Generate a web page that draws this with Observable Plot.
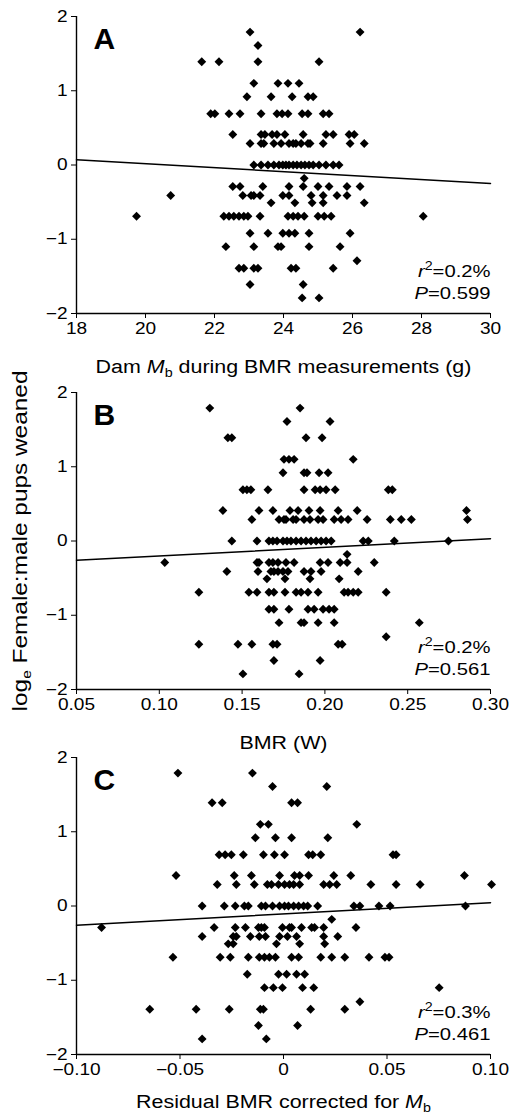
<!DOCTYPE html>
<html><head><meta charset="utf-8">
<script src="https://cdn.jsdelivr.net/npm/d3@7"></script>
<script src="https://cdn.jsdelivr.net/npm/@observablehq/plot@0.6"></script>
<style>
body{margin:0;background:#fff;}
#chart{position:relative;width:515px;height:1118px;font-family:"Liberation Sans",Arial,Helvetica,sans-serif;}
#chart svg{position:absolute;left:0;overflow:visible;}
</style></head><body><div id="chart"></div>
<script>
// y levels: log_e(female:male pups weaned)
const yLevels = [1.79, 1.61, 1.39, 1.10, 0.92, 0.69, 0.41, 0.29, 0, -0.18, -0.29, -0.41, -0.51, -0.69, -0.92, -1.10, -1.29, -1.39, -1.61, -1.79];
const yTicks = [-2, -1, 0, 1, 2];

// Panel A: dam body mass (g), one list per y level
const damMass = [
 [23.03, 26.22],
 [23.26],
 [21.63, 22.13, 23.26, 25.03],
 [23.14, 23.84, 24.13, 24.45],
 [22.94, 23.64, 24.25, 24.71, 24.86],
 [21.89, 22.01, 22.42, 22.74, 23.35, 23.81, 23.96, 24.13, 24.54, 24.71, 25.15, 25.32],
 [22.53, 23.35, 23.46, 23.67, 23.81, 24.04, 24.57, 25.23, 25.44, 25.90, 26.05],
 [23.03, 23.35, 23.43, 23.72, 23.93, 24.16, 24.28, 24.36, 24.51, 24.71, 24.77, 25.15, 25.93, 26.34],
 [23.14, 23.35, 23.55, 23.72, 23.87, 23.98, 24.07, 24.16, 24.28, 24.39, 24.51, 24.62, 24.74, 24.86, 25.03, 25.23, 25.44, 25.61],
 [24.60],
 [22.53, 22.74, 23.40, 24.16, 24.57, 25.00, 25.32, 25.84, 26.22],
 [20.73, 22.82, 23.06, 23.14, 23.32, 23.98, 24.16, 24.80, 25.15, 25.55, 25.84],
 [23.64, 24.33, 24.83, 25.15, 26.34],
 [19.74, 22.27, 22.42, 22.56, 22.71, 22.85, 22.97, 23.32, 24.13, 24.28, 24.42, 24.60, 25.00, 25.18, 25.38, 28.05],
 [23.03, 23.55, 23.98, 24.16, 24.33, 24.74, 25.93],
 [22.33, 23.14, 23.84, 23.93, 24.74, 25.64],
 [26.13],
 [22.71, 22.85, 23.14, 23.26, 24.22, 24.36, 25.44],
 [23.03, 24.57],
 [24.54, 25.03]
];
// Panel B: BMR (W)
const bmr = [
 [0.1305, 0.1850],
 [0.1771, 0.2031],
 [0.1414, 0.1438, 0.1886, 0.1983],
 [0.1753, 0.1783, 0.1814, 0.2171],
 [0.1747, 0.1874, 0.1892, 0.1965, 0.2019],
 [0.1505, 0.1529, 0.1553, 0.1656, 0.1874, 0.1941, 0.1971, 0.2007, 0.2062, 0.2383, 0.2407],
 [0.1384, 0.1602, 0.1686, 0.1789, 0.1838, 0.1904, 0.1971, 0.2080, 0.2195, 0.2855],
 [0.1559, 0.1723, 0.1753, 0.1765, 0.1808, 0.1826, 0.1874, 0.1910, 0.1959, 0.1989, 0.2056, 0.2098, 0.2140, 0.2255, 0.2395, 0.2461, 0.2522, 0.2861],
 [0.1438, 0.1590, 0.1662, 0.1686, 0.1711, 0.1747, 0.1771, 0.1795, 0.1826, 0.1856, 0.1886, 0.1916, 0.1947, 0.1977, 0.2007, 0.2038, 0.2231, 0.2262, 0.2419, 0.2746],
 [0.2134],
 [0.1033, 0.1590, 0.1602, 0.1662, 0.1686, 0.1717, 0.1765, 0.1814, 0.1971, 0.2019, 0.2092, 0.2134, 0.2298],
 [0.1408, 0.1596, 0.1674, 0.1692, 0.1717, 0.1747, 0.1777, 0.1874, 0.1916, 0.1977, 0.2201],
 [0.1650, 0.1759, 0.1910, 0.2086],
 [0.1239, 0.1541, 0.1590, 0.1662, 0.1692, 0.1759, 0.1826, 0.1856, 0.1898, 0.1959, 0.2116, 0.2140, 0.2171, 0.2201, 0.2370],
 [0.1662, 0.1692, 0.1783, 0.1898, 0.1935, 0.1989, 0.2025, 0.2056],
 [0.1723, 0.1856, 0.1874, 0.1959, 0.2056, 0.2570],
 [0.2370],
 [0.1239, 0.1475, 0.1559, 0.1686, 0.1711, 0.2080, 0.2104],
 [0.1692, 0.1971],
 [0.1505, 0.1844]
];
// Panel C: residual BMR corrected for Mb
const residual = [
 [-0.0510, -0.0150],
 [-0.0053, 0.0209],
 [-0.0345, -0.0296, 0.0039, 0.0068],
 [-0.0112, -0.0073, 0.0354],
 [-0.0136, -0.0039, 0.0039, 0.0214],
 [-0.0311, -0.0282, -0.0252, -0.0194, -0.0097, -0.0044, 0.0005, 0.0121, 0.0141, 0.0180, 0.0529, 0.0544],
 [-0.0519, -0.0238, -0.0155, -0.0019, 0.0053, 0.0078, 0.0121, 0.0243, 0.0325, 0.0874],
 [-0.0320, -0.0228, -0.0141, -0.0078, -0.0058, -0.0024, 0.0005, 0.0029, 0.0049, 0.0078, 0.0194, 0.0223, 0.0257, 0.0422, 0.0544, 0.0660, 0.1005],
 [-0.0393, -0.0286, -0.0233, -0.0189, -0.0170, -0.0107, -0.0087, -0.0053, -0.0019, 0.0005, 0.0024, 0.0049, 0.0073, 0.0097, 0.0117, 0.0165, 0.0340, 0.0369, 0.0461, 0.0515, 0.0879],
 [0.0233],
 [-0.0879, -0.0335, -0.0233, -0.0184, -0.0121, -0.0107, -0.0092, -0.0005, 0.0029, 0.0039, 0.0087, 0.0136, 0.0150, 0.0194, 0.0350],
 [-0.0393, -0.0243, -0.0228, -0.0160, -0.0117, -0.0087, -0.0019, 0.0019, 0.0063, 0.0194, 0.0262],
 [-0.0267, -0.0243, -0.0034, 0.0078, 0.0199],
 [-0.0534, -0.0306, -0.0257, -0.0170, -0.0117, -0.0092, -0.0068, -0.0039, 0.0039, 0.0073, 0.0180, 0.0233, 0.0296, 0.0413, 0.0490, 0.0510],
 [-0.0175, -0.0024, 0.0015, 0.0063, 0.0102],
 [-0.0092, -0.0049, -0.0005, 0.0092, 0.0146, 0.0752],
 [0.0369],
 [-0.0646, -0.0422, -0.0262, -0.0112, -0.0097, 0.0131, 0.0296],
 [-0.0121, 0.0068],
 [-0.0393, -0.0083]
];

// regression lines (end points)
const fitAx = [18, 30], fitAy = [0.07, -0.25];
const fitBx = [0.05, 0.30], fitBy = [-0.26, 0.03];
const fitCx = [-0.10, 0.10], fitCy = [-0.26, 0.045];

// tick values
const ticksA = [18, 20, 22, 24, 26, 28, 30];
const ticksB = [0.05, 0.10, 0.15, 0.20, 0.25, 0.30];
const ticksC = [-0.10, -0.05, 0, 0.05, 0.10];

// stats and texts
const letters = ["A", "B", "C"];
const r2Values = ["0.2%", "0.2%", "0.3%"];
const pValues = ["0.599", "0.561", "0.461"];
const xLabels = ["Dam M_b during BMR measurements (g)", "BMR (W)", "Residual BMR corrected for M_b"];
const yLabel = "log_e Female:male pups weaned";

const minus = s => String(s).replace("-", "\u2212");
const fmtInt = d => minus(d3.format("d")(d));
const fmt2 = d => d === 0 ? "0" : minus(d3.format(".2f")(Math.abs(d) < 1e-9 ? 0 : d));

const FONT = "Liberation Sans, Arial, Helvetica, sans-serif";
const FRAME_H = 297;

function panel(i, xsByLevel, xDomain, xTicks, xFmt, fitX, fitY, height, top, labelDy, extra = []) {
  const pts = [];
  xsByLevel.forEach((xs, k) => xs.forEach(x => pts.push({x, y: yLevels[k]})));
  const fit = fitX.map((x, k) => ({x, y: fitY[k]}));
  const plot = Plot.plot({
    width: 515,
    height,
    marginTop: 16,
    marginLeft: 76,
    marginRight: 25,
    marginBottom: height - 16 - FRAME_H,
    style: {fontFamily: FONT, fontSize: "16px", color: "#000", background: "transparent", overflow: "visible"},
    x: {domain: xDomain, ticks: xTicks, tickFormat: xFmt, label: null, tickSize: 5, tickPadding: 4},
    y: {domain: [-2, 2], ticks: yTicks, tickFormat: fmtInt, label: null, tickSize: 5, tickPadding: 4},
    marks: [
      Plot.ruleX([xDomain[0]], {stroke: "#000", strokeWidth: 1.4}),
      Plot.ruleY([-2], {stroke: "#000", strokeWidth: 1.4}),
      Plot.line(fit, {x: "x", y: "y", stroke: "#000", strokeWidth: 1.5}),
      Plot.dot(pts, {x: "x", y: "y", symbol: "diamond2", r: 4, fill: "#000"}),
      Plot.text([letters[i]], {text: d => d, frameAnchor: "top-left", textAnchor: "start", lineAnchor: "bottom", dx: 17, dy: 32, fontSize: 30, fontWeight: "bold", fontFamily: FONT}),
      Plot.text(["r2=" + r2Values[i]], {text: d => d, frameAnchor: "bottom-right", textAnchor: "end", lineAnchor: "bottom", dy: -37, fontSize: 17, fontFamily: FONT}),
      Plot.text(["P=" + pValues[i]], {text: d => d, frameAnchor: "bottom-right", textAnchor: "end", lineAnchor: "bottom", dy: -15, fontSize: 17, fontFamily: FONT}),
      Plot.text([xLabels[i]], {text: d => d, frameAnchor: "bottom", textAnchor: "middle", lineAnchor: "bottom", dy: labelDy, fontSize: 18, fontFamily: FONT}),
      ...extra
    ]
  });
  plot.style.top = top + "px";
  // rich text (italics, super/subscripts)
  d3.select(plot).selectAll("text").each(function() {
    const t = this.textContent;
    if (t.startsWith("r2=")) {
      this.innerHTML = `<tspan font-style="italic">r</tspan><tspan dy="-7" font-size="12">2</tspan><tspan dy="7">${t.slice(2)}</tspan>`;
    } else if (t.startsWith("P=")) {
      this.innerHTML = `<tspan font-style="italic">P</tspan>${t.slice(1)}`;
    } else if (t.includes("M_b")) {
      const [a, b] = t.split("M_b");
      this.innerHTML = `${a}<tspan font-style="italic">M</tspan><tspan dy="4" font-size="12">b</tspan><tspan dy="-4">${b}</tspan>`;
    } else if (t.startsWith("log_e")) {
      this.innerHTML = `log<tspan dy="4" font-size="13">e</tspan><tspan dy="-4">${t.slice(5)}</tspan>`;
    }
  });
  return plot;
}

// the original typeface is wider than Arial: stretch texts along their baseline
function widen(svg) {
  d3.select(svg).selectAll("text").each(function() {
    const t = this.textContent;
    if (letters.includes(t)) return;
    const L = this.getComputedTextLength();
    if (L > 0) {
      this.setAttribute("textLength", (L * 1.19).toFixed(1));
      this.setAttribute("lengthAdjust", "spacingAndGlyphs");
    }
  });
}

const chart = document.getElementById("chart");
const pA = panel(0, damMass, [18, 30], ticksA, fmtInt, fitAx, fitAy, 376, 0, 59);
const pB = panel(1, bmr, [0.05, 0.30], ticksB, fmt2, fitBx, fitBy, 365, 376, 59, [
  Plot.text([yLabel], {text: d => d, frameAnchor: "left", rotate: -90, textAnchor: "middle", dx: -56, fontSize: 20.5, fontFamily: FONT})
]);
const pC = panel(2, residual, [-0.10, 0.10], ticksC, fmt2, fitCx, fitCy, 377, 741, 53);
[pA, pB, pC].forEach(p => { chart.appendChild(p); widen(p); });
</script></body></html>
